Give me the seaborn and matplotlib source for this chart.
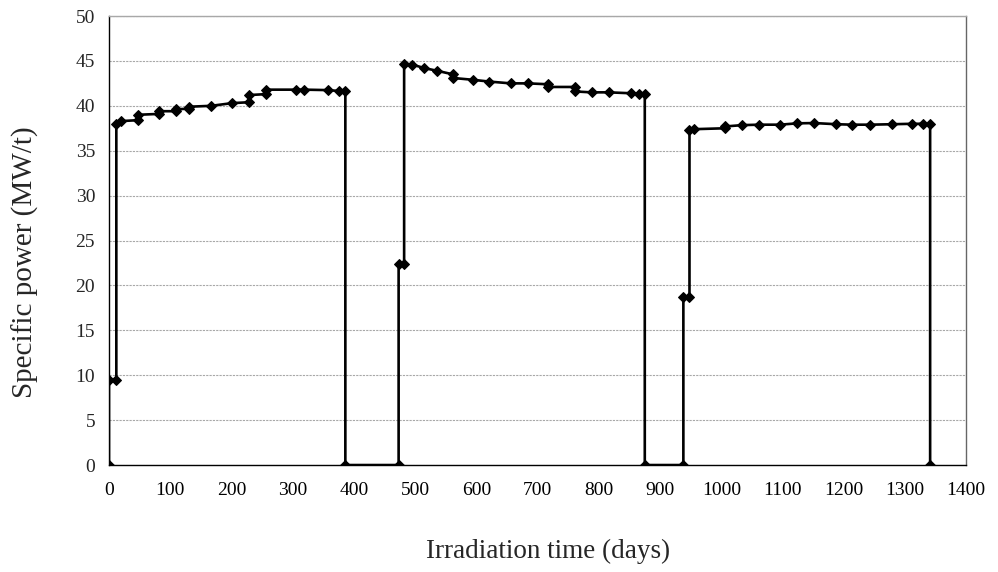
import matplotlib
matplotlib.use("Agg")
import matplotlib.pyplot as plt
import seaborn as sns
import pandas as pd

# irradiation history: vertices of the power steps (days, MW/t)
cycle1_days = [0, 0, 12, 12, 20, 47, 47, 82, 82, 110, 110, 131, 131, 167, 201, 229, 229,
               256, 256, 305, 319, 357, 376, 386, 386]
cycle1_power = [0, 9.5, 9.5, 38.0, 38.3, 38.4, 39.0, 39.1, 39.4, 39.4, 39.6, 39.7, 39.9,
                40.0, 40.3, 40.4, 41.2, 41.3, 41.8, 41.8, 41.8, 41.75, 41.65, 41.65, 0]

cycle2_days = [473, 473, 482, 482, 495, 515, 536, 562, 562, 594, 621, 656, 684, 717, 717,
               761, 761, 788, 816, 852, 866, 875, 875]
cycle2_power = [0, 22.4, 22.4, 44.7, 44.6, 44.2, 43.9, 43.5, 43.1, 42.9, 42.7, 42.5, 42.5,
                42.4, 42.1, 42.1, 41.6, 41.5, 41.5, 41.4, 41.35, 41.35, 0]

cycle3_days = [938, 938, 948, 948, 956, 1006, 1006, 1034, 1062, 1096, 1124, 1152, 1188,
               1214, 1243, 1279, 1312, 1330, 1341, 1341]
cycle3_power = [0, 18.7, 18.7, 37.3, 37.4, 37.5, 37.7, 37.85, 37.9, 37.9, 38.05, 38.08,
                37.95, 37.9, 37.9, 37.95, 38.0, 38.0, 37.95, 0]

days = cycle1_days + cycle2_days + cycle3_days
power = cycle1_power + cycle2_power + cycle3_power
df = pd.DataFrame({"days": days, "power": power})

sns.set_style("white")
plt.rcParams['font.family'] = ['Liberation Serif', 'DejaVu Serif']

fig = plt.figure(figsize=(9.98, 5.72), dpi=100)
ax = fig.add_axes([0.1092, 0.187, 0.859, 0.785])

ax.yaxis.grid(True, color='#a8a8a8', linestyle=(0, (2, 1)), linewidth=0.8)
ax.set_axisbelow(True)

sns.lineplot(data=df, x="days", y="power", sort=False, estimator=None, ax=ax,
             color='black', linewidth=1.9, marker='D', markersize=5,
             markeredgecolor='black', markerfacecolor='black')

ax.set_xlim(0, 1400)
ax.set_ylim(0, 50)
ax.set_xticks(range(0, 1401, 100))
ax.set_yticks(range(0, 51, 5))
ax.tick_params(axis='x', direction='in', length=5, width=0.8, color='#888888',
               labelsize=14, pad=12, labelcolor='black')
ax.tick_params(axis='y', direction='out', length=5, width=0.8, labelsize=14, pad=5)

for side in ['left', 'right', 'top', 'bottom']:
    ax.spines[side].set_visible(True)
    ax.spines[side].set_color('black')
    ax.spines[side].set_linewidth(1.0)
ax.spines['top'].set_color('#a8a8a8')
ax.spines['right'].set_color('#666666')

ax.set_xlabel('Irradiation time (days)', fontsize=19.5)
ax.set_ylabel('Specific power (MW/t)', fontsize=21)
ax.xaxis.set_label_coords(0.512, -0.165)
ax.yaxis.set_label_coords(-0.082, 0.452)

fig.savefig('out.png', dpi=100)
